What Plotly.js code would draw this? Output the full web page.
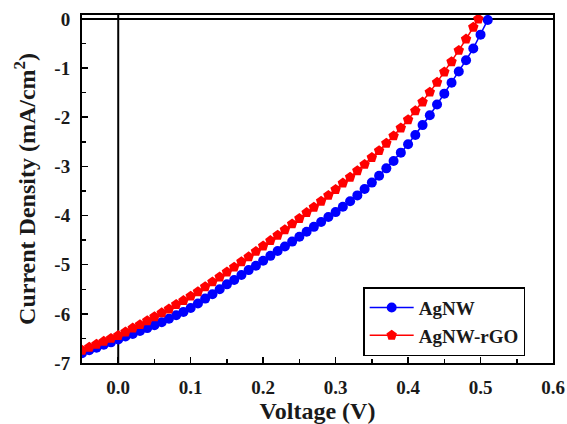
<!DOCTYPE html>
<html>
<head>
<meta charset="utf-8">
<script src="https://cdn.plot.ly/plotly-3.0.1.min.js"></script>
<style>html,body{margin:0;padding:0;background:#fff;}#chart{width:567px;height:424px;}</style>
</head>
<body>
<div id="chart"></div>
<script>
const voltageAgNW = [-0.05,-0.04,-0.03,-0.02,-0.01,0.00,0.01,0.02,0.03,0.04,0.05,0.06,0.07,0.08,0.09,0.10,0.11,0.12,0.13,0.14,0.15,0.16,0.17,0.18,0.19,0.20,0.21,0.22,0.23,0.24,0.25,0.26,0.27,0.28,0.29,0.30,0.31,0.32,0.33,0.34,0.35,0.36,0.37,0.38,0.39,0.40,0.41,0.42,0.43,0.44,0.45,0.46,0.47,0.48,0.49,0.50,0.51];
const currentAgNW = [-6.80,-6.74,-6.69,-6.63,-6.58,-6.52,-6.46,-6.41,-6.35,-6.29,-6.23,-6.17,-6.10,-6.03,-5.96,-5.88,-5.79,-5.69,-5.60,-5.50,-5.40,-5.31,-5.21,-5.11,-5.02,-4.92,-4.82,-4.72,-4.63,-4.53,-4.43,-4.33,-4.23,-4.13,-4.03,-3.93,-3.82,-3.71,-3.59,-3.46,-3.33,-3.19,-3.04,-2.89,-2.72,-2.55,-2.36,-2.16,-1.96,-1.74,-1.52,-1.30,-1.07,-0.84,-0.60,-0.32,-0.02];
const voltageRGO = [-0.05,-0.04,-0.03,-0.02,-0.01,0.00,0.01,0.02,0.03,0.04,0.05,0.06,0.07,0.08,0.09,0.10,0.11,0.12,0.13,0.14,0.15,0.16,0.17,0.18,0.19,0.20,0.21,0.22,0.23,0.24,0.25,0.26,0.27,0.28,0.29,0.30,0.31,0.32,0.33,0.34,0.35,0.36,0.37,0.38,0.39,0.40,0.41,0.42,0.43,0.44,0.45,0.46,0.47,0.48,0.49,0.497];
const currentRGO = [-6.74,-6.68,-6.62,-6.56,-6.50,-6.44,-6.37,-6.29,-6.22,-6.14,-6.06,-5.98,-5.90,-5.81,-5.73,-5.64,-5.55,-5.45,-5.35,-5.25,-5.15,-5.05,-4.94,-4.84,-4.73,-4.62,-4.51,-4.40,-4.29,-4.17,-4.06,-3.94,-3.83,-3.71,-3.59,-3.47,-3.34,-3.22,-3.09,-2.96,-2.82,-2.68,-2.53,-2.38,-2.22,-2.05,-1.87,-1.69,-1.49,-1.29,-1.08,-0.87,-0.64,-0.41,-0.17,0.0];
const seriesNames = ['AgNW', 'AgNW-rGO'];
const xTickVals = [0.0,0.1,0.2,0.3,0.4,0.5,0.6];
const xTickText = ['0.0','0.1','0.2','0.3','0.4','0.5','0.6'];
const yTickVals = [0,-1,-2,-3,-4,-5,-6,-7];
const yTickText = ['0','-1','-2','-3','-4','-5','-6','-7'];

const serif = '"Times New Roman", "Liberation Serif", "DejaVu Serif", serif';
const ink = '#1a1a1a';

const traces = [
  {
    x: voltageAgNW, y: currentAgNW, name: seriesNames[0], type: 'scatter', mode: 'lines+markers',
    line: {color: '#0000ff', width: 1.5},
    marker: {symbol: 'circle', size: 10, color: '#0000ff'}
  },
  {
    x: voltageRGO, y: currentRGO, name: seriesNames[1], type: 'scatter', mode: 'lines+markers',
    line: {color: '#ff0000', width: 1.5},
    marker: {symbol: 'pentagon', size: 11, color: '#ff0000'}
  }
];

const layout = {
  width: 567, height: 424,
  margin: {l: 82, r: 14, t: 15, b: 61},
  paper_bgcolor: '#fff', plot_bgcolor: '#fff',
  font: {family: serif, color: ink, size: 18, weight: 'bold'},
  showlegend: true,
  legend: {
    x: 0.597, y: 0.218, xanchor: 'left', yanchor: 'top',
    bordercolor: '#000', borderwidth: 1.5, bgcolor: '#fff',
    font: {family: serif, size: 19, weight: 'bold', color: ink},
    tracegroupgap: 0, itemwidth: 44, entrywidth: 135
  },
  xaxis: {
    range: [-0.05, 0.6],
    tickvals: xTickVals, ticktext: xTickText,
    ticks: 'inside', ticklen: 6, tickwidth: 1.5, tickcolor: '#000',
    minor: {dtick: 0.05, ticks: 'inside', ticklen: 4, tickwidth: 1.5, tickcolor: '#000', showgrid: false},
    showline: true, linecolor: '#000', linewidth: 2, mirror: true,
    showgrid: false, zeroline: false,
    ticklabelstandoff: 6,
    tickfont: {family: serif, size: 19, weight: 'bold', color: ink},
    title: {text: 'Voltage (V)', font: {family: serif, size: 24, weight: 'bold', color: ink}, standoff: 8}
  },
  yaxis: {
    range: [-7, 0.08],
    tickvals: yTickVals, ticktext: yTickText,
    ticks: 'inside', ticklen: 6, tickwidth: 1.5, tickcolor: '#000',
    minor: {dtick: 0.5, ticks: 'inside', ticklen: 4, tickwidth: 1.5, tickcolor: '#000', showgrid: false},
    showline: true, linecolor: '#000', linewidth: 2, mirror: true,
    showgrid: false, zeroline: false,
    ticklabelstandoff: 6,
    tickfont: {family: serif, size: 19, weight: 'bold', color: ink},
    title: {text: 'Current Density (mA/cm<sup>2</sup>)', font: {family: serif, size: 24, weight: 'bold', color: ink}, standoff: 12}
  },
  shapes: [
    {type: 'line', xref: 'paper', x0: 0, x1: 1, yref: 'y', y0: 0, y1: 0, line: {color: '#000', width: 2}, layer: 'below'},
    {type: 'line', xref: 'x', x0: 0, x1: 0, yref: 'paper', y0: 0, y1: 1, line: {color: '#000', width: 2}, layer: 'below'}
  ]
};

Plotly.newPlot('chart', traces, layout, {displayModeBar: false, staticPlot: true});
</script>
</body>
</html>
